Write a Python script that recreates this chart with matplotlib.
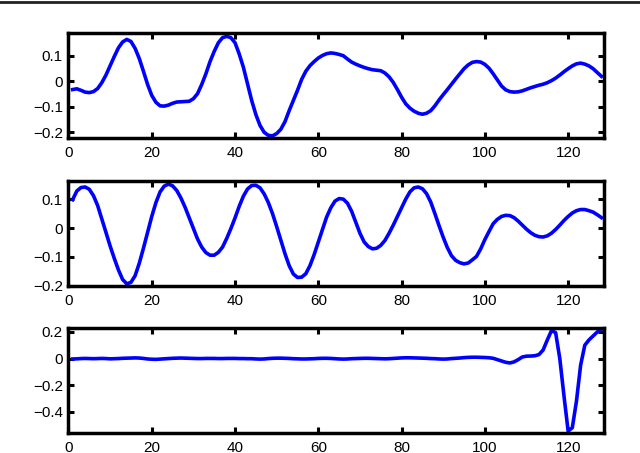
import numpy as np
import matplotlib
matplotlib.use("Agg")
import matplotlib.pyplot as plt
import matplotlib.ticker as mticker
from matplotlib.lines import Line2D

plt.rcParams['font.family'] = ['Liberation Sans', 'DejaVu Sans']

x = np.arange(1, 129)

top_y = [-0.032, -0.029, -0.035, -0.042, -0.044, -0.040, -0.028, -0.005, 0.025, 0.062,
         0.098, 0.132, 0.155, 0.165, 0.157, 0.130, 0.090, 0.040, -0.012, -0.055,
         -0.082, -0.096, -0.097, -0.093, -0.086, -0.081, -0.080, -0.079, -0.078, -0.068,
         -0.048, -0.012, 0.030, 0.078, 0.118, 0.152, 0.172, 0.177, 0.172, 0.152,
         0.108, 0.056, -0.010, -0.075, -0.130, -0.173, -0.200, -0.212, -0.214, -0.205,
         -0.188, -0.158, -0.115, -0.075, -0.035, 0.008, 0.040, 0.062, 0.078, 0.092,
         0.102, 0.109, 0.112, 0.110, 0.106, 0.101, 0.088, 0.076, 0.068, 0.061,
         0.055, 0.050, 0.046, 0.044, 0.042, 0.033, 0.018, -0.004, -0.032, -0.062,
         -0.088, -0.105, -0.117, -0.125, -0.129, -0.125, -0.115, -0.096, -0.073, -0.052,
         -0.032, -0.011, 0.010, 0.030, 0.050, 0.065, 0.075, 0.078, 0.076, 0.067,
         0.052, 0.030, 0.006, -0.018, -0.033, -0.040, -0.042, -0.041, -0.037, -0.031,
         -0.025, -0.020, -0.015, -0.011, -0.005, 0.003, 0.013, 0.025, 0.038, 0.050,
         0.061, 0.069, 0.072, 0.068, 0.061, 0.050, 0.035, 0.020]

mid_y = [0.098, 0.128, 0.140, 0.142, 0.134, 0.112, 0.078, 0.032, -0.015, -0.062,
         -0.105, -0.145, -0.178, -0.193, -0.188, -0.165, -0.122, -0.070, -0.015, 0.040,
         0.088, 0.125, 0.145, 0.152, 0.146, 0.130, 0.104, 0.072, 0.035, -0.002,
         -0.038, -0.066, -0.085, -0.094, -0.094, -0.084, -0.066, -0.036, -0.002, 0.035,
         0.075, 0.110, 0.135, 0.147, 0.148, 0.139, 0.118, 0.088, 0.050, 0.005,
         -0.042, -0.089, -0.130, -0.159, -0.171, -0.170, -0.158, -0.130, -0.092, -0.048,
         -0.005, 0.038, 0.070, 0.093, 0.102, 0.100, 0.086, 0.058, 0.020, -0.018,
         -0.048, -0.064, -0.072, -0.070, -0.060, -0.043, -0.018, 0.010, 0.040, 0.070,
         0.100, 0.125, 0.139, 0.142, 0.136, 0.119, 0.090, 0.050, 0.008, -0.032,
         -0.068, -0.096, -0.112, -0.120, -0.124, -0.121, -0.110, -0.098, -0.072, -0.040,
         -0.012, 0.015, 0.030, 0.040, 0.044, 0.043, 0.036, 0.024, 0.010, -0.004,
         -0.016, -0.025, -0.030, -0.031, -0.027, -0.018, -0.005, 0.010, 0.026, 0.040,
         0.052, 0.060, 0.064, 0.064, 0.060, 0.055, 0.046, 0.036]

bot_y = [-0.003, -0.002, 0.000, 0.001, 0.000, -0.001, 0.000, 0.001, 0.000, -0.002,
         -0.001, 0.000, 0.002, 0.003, 0.004, 0.005, 0.004, 0.001, -0.003, -0.005,
         -0.006, -0.004, -0.002, 0.000, 0.002, 0.003, 0.004, 0.003, 0.002, 0.001,
         0.000, 0.000, 0.001, 0.001, 0.001, 0.000, 0.000, 0.001, 0.001, 0.001,
         0.000, 0.000, -0.001, -0.001, -0.003, -0.004, -0.003, 0.000, 0.002, 0.003,
         0.003, 0.002, 0.001, -0.001, -0.002, -0.003, -0.003, -0.002, -0.001, 0.001,
         0.002, 0.002, 0.001, -0.001, -0.003, -0.004, -0.003, -0.001, 0.000, 0.001,
         0.002, 0.002, 0.001, 0.000, -0.001, -0.002, -0.001, 0.001, 0.003, 0.005,
         0.006, 0.006, 0.005, 0.004, 0.003, 0.002, 0.000, -0.001, -0.003, -0.004,
         -0.003, 0.000, 0.002, 0.004, 0.007, 0.009, 0.010, 0.010, 0.009, 0.008,
         0.006, 0.002, -0.008, -0.018, -0.028, -0.033, -0.025, -0.008, 0.012, 0.018,
         0.019, 0.021, 0.030, 0.065, 0.140, 0.210, 0.195, 0.000, -0.280, -0.545,
         -0.520, -0.320, -0.050, 0.100, 0.140, 0.170, 0.200, 0.220]

series = [top_y, mid_y, bot_y]
ylims = [(-0.223, 0.19), (-0.2, 0.162), (-0.56, 0.23)]
yticks = [[-0.2, -0.1, 0, 0.1], [-0.2, -0.1, 0, 0.1], [-0.4, -0.2, 0, 0.2]]
xticks = [0, 20, 40, 60, 80, 100, 120]

fig = plt.figure(figsize=(6.4, 4.53), dpi=100)
boxes = [[0.107, 0.695, 0.836, 0.232],
         [0.107, 0.369, 0.836, 0.231],
         [0.107, 0.044, 0.836, 0.232]]

fmt = mticker.FuncFormatter(lambda v, p: ('%g' % round(v, 3)).replace('-', '\u2212'))

for box, yv, yl, yt in zip(boxes, series, ylims, yticks):
    ax = fig.add_axes(box)
    ax.plot(x, yv, color='#0000ff', linewidth=2.6)
    ax.set_xlim(0, 128.5)
    ax.set_ylim(*yl)
    ax.set_xticks(xticks)
    ax.set_yticks(yt)
    ax.yaxis.set_major_formatter(fmt)
    for s in ax.spines.values():
        s.set_linewidth(2.5)
    ax.tick_params(direction='in', top=True, right=True, length=4, width=2.2,
                   labelsize=11, pad=4)
    ax.tick_params(axis='x', pad=6)

# thin dark rule along the top edge
fig.add_artist(Line2D([0, 1], [0.996, 0.996], color='#222222', linewidth=2,
                      transform=fig.transFigure))

fig.savefig('out.png', dpi=100)
